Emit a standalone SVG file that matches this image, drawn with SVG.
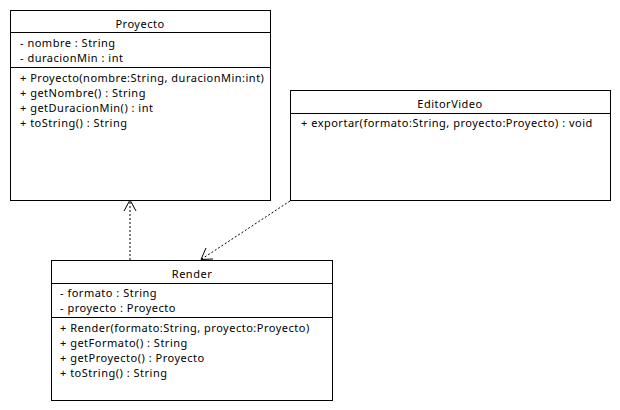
<svg xmlns="http://www.w3.org/2000/svg" width="620" height="410" viewBox="0 0 620 410">
<style>
.box{fill:#fff;stroke:#000;stroke-width:1}
.sep{stroke:#000;stroke-width:1}
text{font-family:"Noto Sans","Open Sans","DejaVu Sans",sans-serif;font-size:11px;letter-spacing:0.5px;fill:#000}
.t{text-anchor:middle}
.dep{fill:none;stroke:#000;stroke-width:1;stroke-dasharray:2,2}
.head{fill:none;stroke:#000;stroke-width:1}
</style>
<rect width="620" height="410" fill="#fff"/>
<g id="connectors">
<line class="dep" x1="130" y1="260" x2="130" y2="200"/>
<polyline class="head" points="124,211 130,200 136,211"/>
<line class="dep" x1="290" y1="201" x2="201" y2="259.5"/>
<polyline class="head" points="206,248 201,259.5 213,259"/>
</g>
<g id="Proyecto">
<rect class="box" x="10.5" y="10.5" width="260" height="190"/>
<line class="sep" x1="10.5" y1="32.5" x2="270.5" y2="32.5"/>
<line class="sep" x1="10.5" y1="67.5" x2="270.5" y2="67.5"/>
<text class="t" x="140" y="27.5">Proyecto</text>
<text x="20" y="47">- nombre : String</text>
<text x="20" y="62">- duracionMin : int</text>
<text x="20" y="82">+ Proyecto(nombre:String, duracionMin:int)</text>
<text x="20" y="97">+ getNombre() : String</text>
<text x="20" y="112">+ getDuracionMin() : int</text>
<text x="20" y="127">+ toString() : String</text>
</g>
<g id="EditorVideo">
<rect class="box" x="290.5" y="90.5" width="320" height="110"/>
<line class="sep" x1="290.5" y1="113.5" x2="610.5" y2="113.5"/>
<text class="t" x="450" y="107.5">EditorVideo</text>
<text x="301" y="127">+ exportar(formato:String, proyecto:Proyecto) : void</text>
</g>
<g id="Render">
<rect class="box" x="51.5" y="260.5" width="281" height="140"/>
<line class="sep" x1="51.5" y1="283.5" x2="332.5" y2="283.5"/>
<line class="sep" x1="51.5" y1="317.5" x2="332.5" y2="317.5"/>
<text class="t" x="192" y="277.5">Render</text>
<text x="60" y="297">- formato : String</text>
<text x="60" y="312">- proyecto : Proyecto</text>
<text x="60" y="332">+ Render(formato:String, proyecto:Proyecto)</text>
<text x="60" y="347">+ getFormato() : String</text>
<text x="60" y="362">+ getProyecto() : Proyecto</text>
<text x="60" y="377">+ toString() : String</text>
</g>
</svg>
